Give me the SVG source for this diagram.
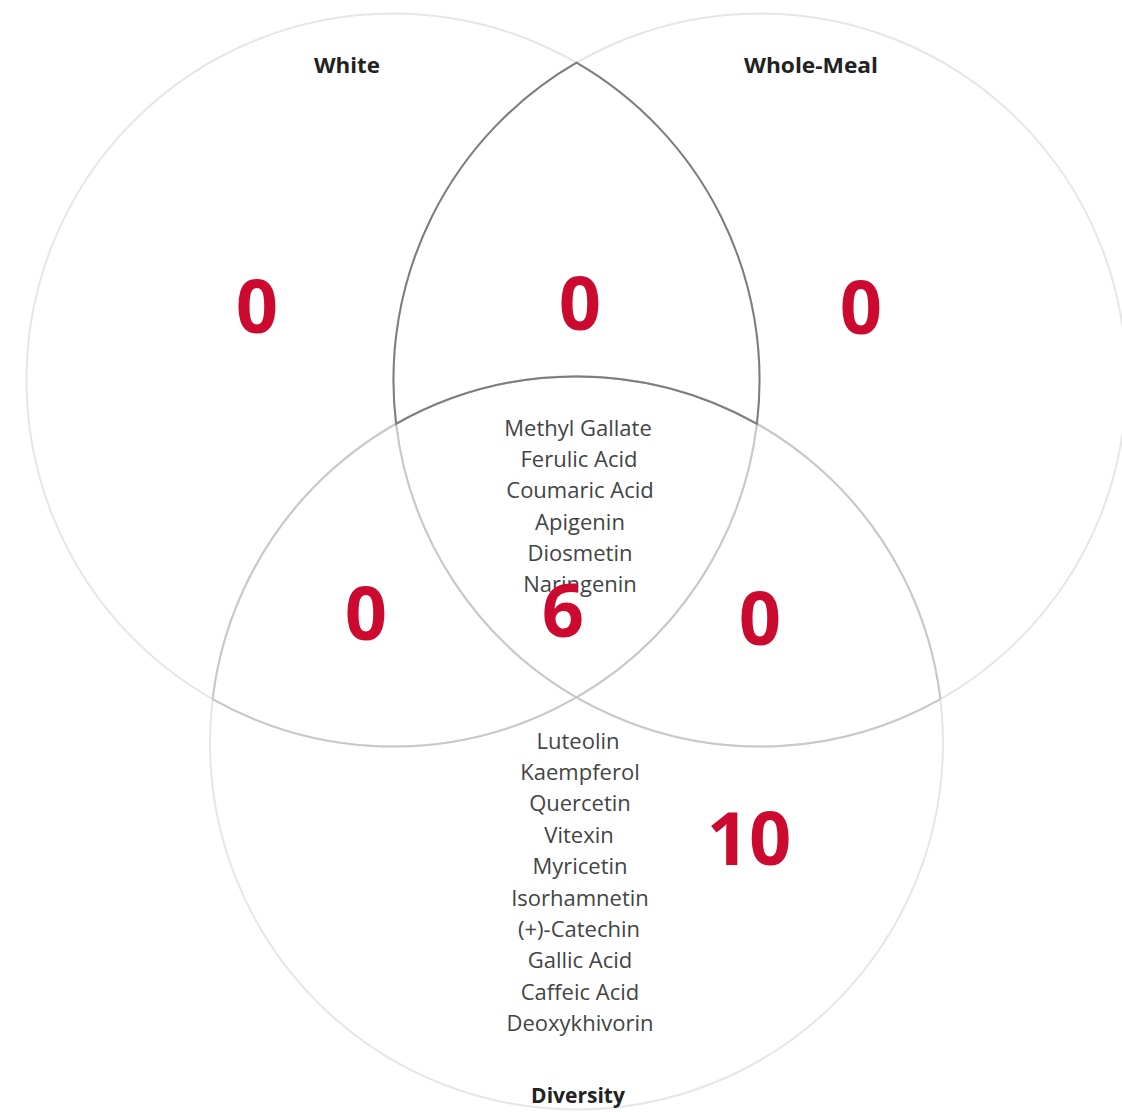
<svg xmlns="http://www.w3.org/2000/svg" width="1122" height="1112" viewBox="0 0 1122 1112">
<style>
.faint{fill:none;stroke:#e6e6e6;stroke-width:2}
.mid{fill:none;stroke:#c8c8c8;stroke-width:2}
.dark{fill:none;stroke:#7d7d7d;stroke-width:2}
.title{font-family:"Open Sans","Liberation Sans",sans-serif;font-weight:bold;font-size:21px;fill:#222;text-anchor:middle}
.item{font-family:"Open Sans","Liberation Sans",sans-serif;font-size:22px;fill:#444;text-anchor:middle}
.num{font-family:"Open Sans","Liberation Sans",sans-serif;font-weight:bold;font-size:74px;fill:#cc0a30;text-anchor:middle}
</style>
<rect width="1122" height="1112" fill="#ffffff"/>
<g id="connectors">
<g id="outlines">
<circle class="faint" cx="393" cy="380" r="366.5"/>
<circle class="faint" cx="760" cy="380" r="366.5"/>
<circle class="faint" cx="576.5" cy="743" r="366.5"/>
</g>
<g id="inner-arcs">
<path class="mid" d="M212.6 699.1 A366.5 366.5 0 0 0 756.9 423.9"/>
<path class="mid" d="M396.1 423.9 A366.5 366.5 0 0 0 940.4 699.1"/>
<path class="mid" d="M212.6 699.1 A366.5 366.5 0 0 1 940.4 699.1"/>
</g>
<path id="lens" class="dark" d="M576.5 62.7 A366.5 366.5 0 0 0 396.1 423.9 A366.5 366.5 0 0 1 756.9 423.9 A366.5 366.5 0 0 0 576.5 62.7 Z"/>
</g>
<g id="white">
<text class="title" x="347" y="73" textLength="66" lengthAdjust="spacingAndGlyphs">White</text>
<text class="num" x="257" y="333">0</text>
</g>
<g id="whole-meal">
<text class="title" x="811" y="73" textLength="134" lengthAdjust="spacingAndGlyphs">Whole-Meal</text>
<text class="num" x="861" y="334">0</text>
</g>
<g id="white-wholemeal">
<text class="num" x="580" y="330">0</text>
</g>
<g id="white-diversity">
<text class="num" x="366" y="640">0</text>
</g>
<g id="wholemeal-diversity">
<text class="num" x="760" y="645">0</text>
</g>
<g id="all-three">
<text class="item" x="578" y="436">Methyl Gallate</text>
<text class="item" x="579" y="467">Ferulic Acid</text>
<text class="item" x="580" y="498">Coumaric Acid</text>
<text class="item" x="580" y="530">Apigenin</text>
<text class="item" x="580" y="561">Diosmetin</text>
<text class="item" x="580" y="592">Naringenin</text>
<text class="num" x="563" y="637">6</text>
</g>
<g id="diversity">
<text class="item" x="578" y="749">Luteolin</text>
<text class="item" x="580" y="780">Kaempferol</text>
<text class="item" x="580" y="811">Quercetin</text>
<text class="item" x="579" y="843">Vitexin</text>
<text class="item" x="580" y="874">Myricetin</text>
<text class="item" x="580" y="906">Isorhamnetin</text>
<text class="item" x="579" y="937">(+)-Catechin</text>
<text class="item" x="580" y="968">Gallic Acid</text>
<text class="item" x="580" y="1000">Caffeic Acid</text>
<text class="item" x="580" y="1031">Deoxykhivorin</text>
<text class="num" x="749" y="865">10</text>
<text class="title" x="578" y="1103">Diversity</text>
</g>
</svg>
